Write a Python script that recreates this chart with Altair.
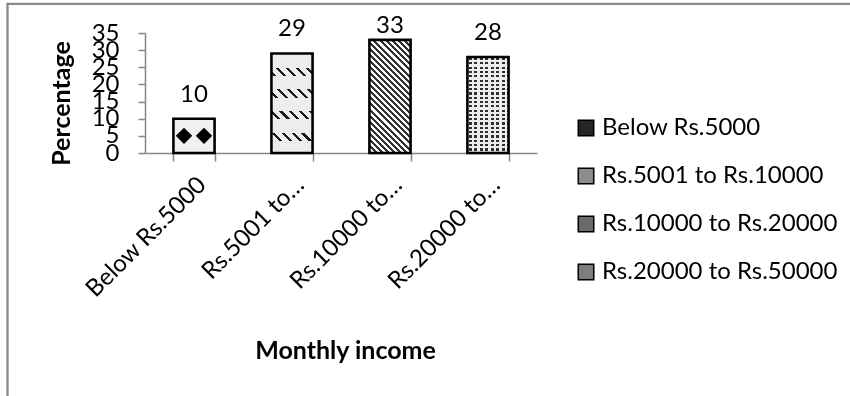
import math
import altair as alt
import pandas as pd

# ---------------- data ----------------
categories = ["Below Rs.5000", "Rs.5001 to Rs.10000", "Rs.10000 to Rs.20000", "Rs.20000 to Rs.50000"]
percentages = [10, 29, 33, 28]
x_tick_labels = ["Below Rs.5000", "Rs.5001 to\u2026", "Rs.10000 to\u2026", "Rs.20000 to\u2026"]
y_ticks = [0, 5, 10, 15, 20, 25, 30, 35]
legend_colors = ["#262626", "#8c8c8c", "#6b6b6b", "#7d7d7d"]

df = pd.DataFrame({"cat": categories, "pct": percentages})

# ---------------- layout / style ----------------
FONT = "Lato"
FS = 24
FS_TITLE = 25
PLOT_W, PLOT_H = 392, 120
Y_MAX = 35
PAD_IN = 0.58
BAR_W = PLOT_W / len(categories) * (1 - PAD_IN)
AX_COL = "#868686"


def bar_h(v):
    return v / Y_MAX * PLOT_H


def stops_from_intervals(intervals, length, dark, light):
    """hard-edged gradient stops; intervals in px along the gradient."""
    pts = []
    for a, b in sorted(intervals):
        a = max(0.0, min(length, a))
        b = max(0.0, min(length, b))
        if b <= a:
            continue
        pts.append((a / length, b / length))
    stops = [alt.GradientStop(color=light, offset=0.0)]
    for a, b in pts:
        stops.append(alt.GradientStop(color=light, offset=round(a, 5)))
        stops.append(alt.GradientStop(color=dark, offset=round(a, 5)))
        stops.append(alt.GradientStop(color=dark, offset=round(b, 5)))
        stops.append(alt.GradientStop(color=light, offset=round(b, 5)))
    stops.append(alt.GradientStop(color=light, offset=1.0))
    return stops


def periodic(length, period, dark_len, phase=0.0):
    out = []
    k = -2
    while k * period + phase < length + period:
        s = k * period + phase
        out.append((s, s + dark_len))
        k += 1
    return out


def diag_gradient(w, h, period, dark_len, dark, light):
    r = w / h
    s = (r + 1) / (r * r + 1)
    L = (w + h) / math.sqrt(2)
    return alt.LinearGradient(
        gradient="linear", x1=0, y1=1, x2=s * r, y2=1 - s,
        stops=stops_from_intervals(periodic(L, period, dark_len), L, dark, light))


def vert_gradient(h, intervals, dark, light):
    return alt.LinearGradient(gradient="linear", x1=0, y1=0, x2=0, y2=1,
                              stops=stops_from_intervals(intervals, h, dark, light))


def horiz_gradient(w, intervals, dark, light):
    return alt.LinearGradient(gradient="linear", x1=0, y1=0, x2=1, y2=0,
                              stops=stops_from_intervals(intervals, w, dark, light))


# ---------------- encodings ----------------
label_expr = ""
for c, lab in zip(categories, x_tick_labels):
    label_expr += f"datum.label == '{c}' ? '{lab}' : "
label_expr += "datum.label"

x_axis = alt.Axis(
    title="Monthly income", labelExpr=label_expr, labelAngle=315,
    labelAlign="right", labelBaseline="middle", labelPadding=20, labelOffset=8,
    tickBand="extent", tickSize=8, tickColor=AX_COL, tickWidth=1.5,
    domainColor=AX_COL, domainWidth=1.5,
    titleX=200, titleY=197, titleAlign="center", titleBaseline="middle",
    titleFontWeight="bold", titleFont=FONT, titleFontSize=FS_TITLE, titleColor="black",
    labelFont=FONT, labelFontSize=FS, labelColor="black", labelOverlap=False,
    grid=False)
y_axis = alt.Axis(
    title="Percentage", values=y_ticks, tickSize=7, tickColor=AX_COL, tickWidth=1.5,
    domainColor=AX_COL, domainWidth=1.5, labelPadding=19, labelOverlap=False,
    labelFont=FONT, labelFontSize=FS, labelColor="black",
    titleAngle=270, titleX=-84, titleY=70, titleAlign="center", titleBaseline="middle",
    titleFontWeight="bold", titleFont=FONT, titleFontSize=FS_TITLE, titleColor="black",
    grid=False)

x_enc = alt.X("cat:N", sort=categories,
              scale=alt.Scale(domain=categories, paddingInner=PAD_IN, paddingOuter=PAD_IN / 2),
              axis=x_axis)
y_scale = alt.Scale(domain=[0, Y_MAX], nice=False)


def yq(field):
    return alt.Y(f"{field}:Q", scale=y_scale, axis=y_axis)


def one(cat):
    return alt.Chart(df).transform_filter(alt.datum.cat == cat)


# base bars (carry the legend)
base = alt.Chart(df).mark_bar().encode(
    x=x_enc, y=yq("pct"),
    color=alt.Color("cat:N", sort=categories,
                    scale=alt.Scale(domain=categories, range=legend_colors),
                    legend=alt.Legend(
                        title=None, orient="none", legendX=429, legendY=83,
                        labelFont=FONT, labelFontSize=FS, labelColor="black",
                        symbolType="square", symbolSize=240, symbolStrokeColor="black",
                        symbolStrokeWidth=1.5, symbolOpacity=1, rowPadding=24,
                        labelOffset=4, padding=0, labelLimit=400)))

layers = [base]

# bar 1: light fill + black diamonds
c1 = categories[0]
layers.append(one(c1).mark_bar(fill="#f0f0f0").encode(x=x_enc, y=yq("pct")))
for off in (-10, 10):
    layers.append(one(c1).transform_calculate(mid="datum.pct / 2")
                  .mark_point(shape="diamond", filled=True, color="black", size=270,
                              opacity=1, xOffset=off)
                  .encode(x=x_enc, y=yq("mid")))

# bar 2: dotted diagonal dashes in rows
c2 = categories[1]
h2 = bar_h(percentages[1])
layers.append(one(c2).mark_bar(fill=diag_gradient(BAR_W, h2, 7.0, 2.2, "#1a1a1a", "#ffffff"))
              .encode(x=x_enc, y=yq("pct")))
rows2 = [(c - 4.2, c + 4.2) for c in [18.3 + k * 21.7 for k in range(-1, 6)]]
layers.append(one(c2).mark_bar(fill=vert_gradient(h2, rows2, "#000000", "#ffffff"), blend="screen")
              .encode(x=x_enc, y=yq("pct")))
layers.append(one(c2).mark_bar(fill="#ededed", blend="multiply").encode(x=x_enc, y=yq("pct")))

# bar 3: diagonal stripes
c3 = categories[2]
h3 = bar_h(percentages[2])
layers.append(one(c3).mark_bar(fill=diag_gradient(BAR_W, h3, 4.3, 2.1, "#333333", "#ffffff"))
              .encode(x=x_enc, y=yq("pct")))

# bar 4: fine dot grid
c4 = categories[3]
h4 = bar_h(percentages[3])
layers.append(one(c4).mark_bar(fill=vert_gradient(h4, periodic(h4, 4.3, 2.2, 1.0), "#1a1a1a", "#ffffff"))
              .encode(x=x_enc, y=yq("pct")))
layers.append(one(c4).mark_bar(fill=horiz_gradient(BAR_W, periodic(BAR_W, 5.5, 2.6, 1.5), "#1a1a1a", "#ffffff"),
                               blend="screen")
              .encode(x=x_enc, y=yq("pct")))
layers.append(one(c4).mark_bar(fill="#ededed", blend="multiply").encode(x=x_enc, y=yq("pct")))

# outlines
layers.append(alt.Chart(df).mark_bar(fill="white", fillOpacity=0, stroke="black", strokeWidth=2.6)
              .encode(x=x_enc, y=yq("pct")))

# value labels (kept inside the plot area like the original)
layers.append(alt.Chart(df).transform_calculate(ly=f"min(datum.pct + 5, {Y_MAX})")
              .mark_text(font=FONT, fontSize=FS, baseline="alphabetic", color="black")
              .encode(x=x_enc, y=yq("ly"), text="pct:Q"))

# chart-area border
layers.append(alt.Chart(pd.DataFrame({"k": [0]}))
              .mark_rect(fill="white", fillOpacity=0, stroke="#8a8a8a", strokeWidth=2.3)
              .encode(x=alt.value(-137.5), x2=alt.value(900),
                      y=alt.value(-29.2), y2=alt.value(600)))

chart = alt.layer(*layers).properties(
    width=PLOT_W, height=PLOT_H,
    autosize=alt.AutoSizeParams(type="none"),
    padding={"left": 145, "top": 33, "right": 313, "bottom": 243},
    background="white",
).configure_view(stroke=None)

chart.save("out.html", embed_options={"renderer": "svg", "actions": False})
